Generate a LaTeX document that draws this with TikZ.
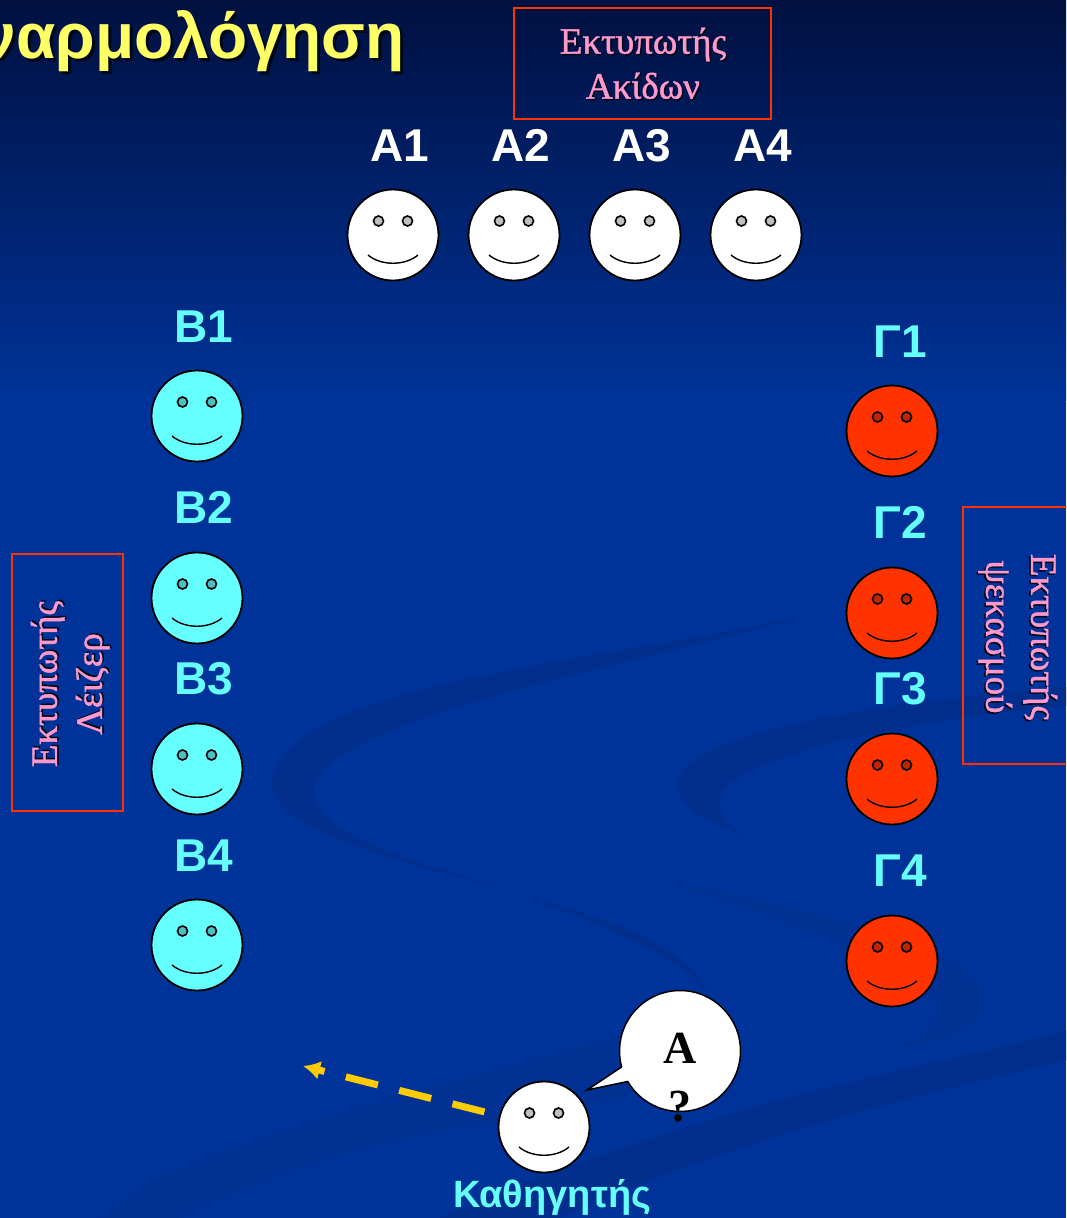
\documentclass[tikz,border=0pt]{standalone}
\usepackage{fontspec}
\setmainfont{Liberation Serif}
\setsansfont{Liberation Sans}
\newfontfamily\printerfont[FakeBold=1.2]{Liberation Serif}
\usetikzlibrary{shapes.callouts,arrows.meta}
\definecolor{slide}{HTML}{003399}
\definecolor{slidetop}{HTML}{001040}
\definecolor{swoosh}{HTML}{022F8E}
\definecolor{swooshfaint}{HTML}{013193}
\definecolor{cyanface}{HTML}{66FFFF}
\definecolor{redface}{HTML}{FF3300}
\definecolor{pinktext}{HTML}{FF99CC}
\definecolor{titletext}{HTML}{FFFF66}
\definecolor{arrowgold}{HTML}{FFCC00}
\newcommand{\shadowed}[2][1.5pt]{\rlap{\kern#1\raisebox{-#1}{\color{black!85!slide}#2}}#2}
\newcommand{\face}[4]{
        \node[faceshape,fill=#4] (#1) at (#2,#3) {};
        \fill[#4!75!black,draw=black,line width=1.6pt] (#1.center)+(-14.5,-14) circle (5);
        \fill[#4!75!black,draw=black,line width=1.6pt] (#1.center)+(14.5,-14) circle (5);
        \draw[shift={(#1.center)},line width=1.4pt] (-25,20) .. controls (-12,31) and (12,31) .. (25,20);
}
\tikzset{
        faceshape/.style={circle,draw=black,line width=1.8pt,minimum size=91pt,inner sep=0pt},
        seatlabel/.style={font=\sffamily\bfseries\fontsize{46}{46}\selectfont,text height=33pt,text depth=0pt},
        printerbox/.style={draw=redface,line width=1.5pt,minimum width=#1},
        printertext/.style={text=pinktext,align=center,font=\printerfont\fontsize{37}{45}\selectfont},
}
\begin{document}
\begin{tikzpicture}[x=1pt,y=-1pt]
        \useasboundingbox (0,0) rectangle (1066,1218);
        \clip (0,0) rectangle (1066,1218);
        \fill[slide] (0,0) rectangle (1066,1218);
        \fill[top color=slidetop,bottom color=slide] (0,0) rectangle (1066,400);
        % swooshes in the slide background
        \fill[swooshfaint] (100,1218) -- (150,1180) .. controls (300,1115) and (480,1075) .. (640,1030) -- (660,1090) -- (520,1120) .. controls (420,1130) and (300,1160) .. (180,1218) -- cycle;
        \fill[swoosh] (1066,1030) .. controls (950,1060) and (850,1080) .. (760,1105) .. controls (640,1140) and (520,1180) .. (440,1218) -- (560,1218) .. controls (620,1190) and (690,1165) .. (760,1142) .. controls (860,1110) and (960,1085) .. (1066,1061) -- cycle;
        \fill[swoosh] (820,612) .. controls (620,660) and (290,680) .. (272,780) .. controls (265,850) and (520,880) .. (640,935) .. controls (680,955) and (705,975) .. (709,1000) .. controls (695,960) and (600,925) .. (520,895) .. controls (420,860) and (314,840) .. (314,790) .. controls (320,720) and (620,670) .. (820,612) -- cycle;
        \fill[swoosh] (1066,687) .. controls (900,700) and (680,730) .. (677,785) .. controls (677,810) and (715,825) .. (746,836) .. controls (725,825) and (719,815) .. (719,801) .. controls (722,760) and (900,720) .. (1066,706) -- cycle;
        \fill[swooshfaint] (661,880) .. controls (760,900) and (980,940) .. (985,1000) .. controls (985,1030) and (930,1045) .. (893,1049) .. controls (920,1040) and (940,1025) .. (935,1005) .. controls (930,975) and (800,925) .. (661,880) -- cycle;
        % title
        \node[anchor=base east,inner sep=0pt,text=titletext,font=\sffamily\bfseries\fontsize{64}{64}\selectfont] (title) at (405,58) {\shadowed[3pt]{ναρμολόγηση}};
        % printers
        \node[printerbox=257pt,minimum height=111pt] (printerA) at (642.5,63.5) {};
        \node[printertext] (printerAtext) at (643,64) {\shadowed{Εκτυπωτής}\\\shadowed{Ακίδων}};
        \node[printerbox=257pt,minimum height=111pt,rotate=90] (printerB) at (67.5,682.5) {};
        \node[printertext,rotate=90] (printerBtext) at (71,684) {\shadowed{Εκτυπωτής}\\\shadowed{Λέιζερ}};
        \node[printerbox=257pt,minimum height=111pt,rotate=-90] (printerC) at (1018.5,635.5) {};
        \node[printertext,rotate=-90] (printerCtext) at (1017,637) {\shadowed{Εκτυπωτής}\\\shadowed{ψεκασμού}};
        % students
        \foreach \i/\x in {1/393,2/514,3/635,4/756}{
                \face{a\i}{\x}{235}{white}
                \pgfmathtruncatemacro{\lx}{\x+7}
                \node[seatlabel,text=white] (la\i) at (\lx,145) {A\i};
        }
        \foreach \i/\y/\ly in {1/416/326,2/598/507,3/769/678,4/945/855}{
                \face{b\i}{197}{\y}{cyanface}
                \node[seatlabel,text=cyanface] (lb\i) at (204,\ly) {B\i};
        }
        \foreach \i/\y/\ly in {1/431/341,2/613/522,3/779/688,4/961/870}{
                \face{c\i}{892}{\y}{redface}
                \node[seatlabel,text=cyanface] (lc\i) at (900,\ly) {Γ\i};
        }
        % teacher
        \face{prof}{544}{1127}{white}
        \node[font=\sffamily\bfseries\fontsize{38}{38}\selectfont,text=cyanface] (lprof) at (552,1197) {Καθηγητής};
        \node[ellipse callout,draw=black,fill=white,line width=1.5pt,minimum size=121pt,inner sep=0pt,callout absolute pointer={(587,1090)}] (bubble) at (680,1051) {};
        \node[font=\bfseries\fontsize{46}{58}\selectfont,align=center] (bubbletext) at (680,1078) {A\\?};
        \coordinate (tip) at (303,1066);
        \draw[arrowgold,line width=7pt,dash pattern=on 33pt off 22pt,dash phase=-15pt,-{Latex[length=17pt,width=19pt]}] (prof) -- (tip);
\end{tikzpicture}
\end{document}
